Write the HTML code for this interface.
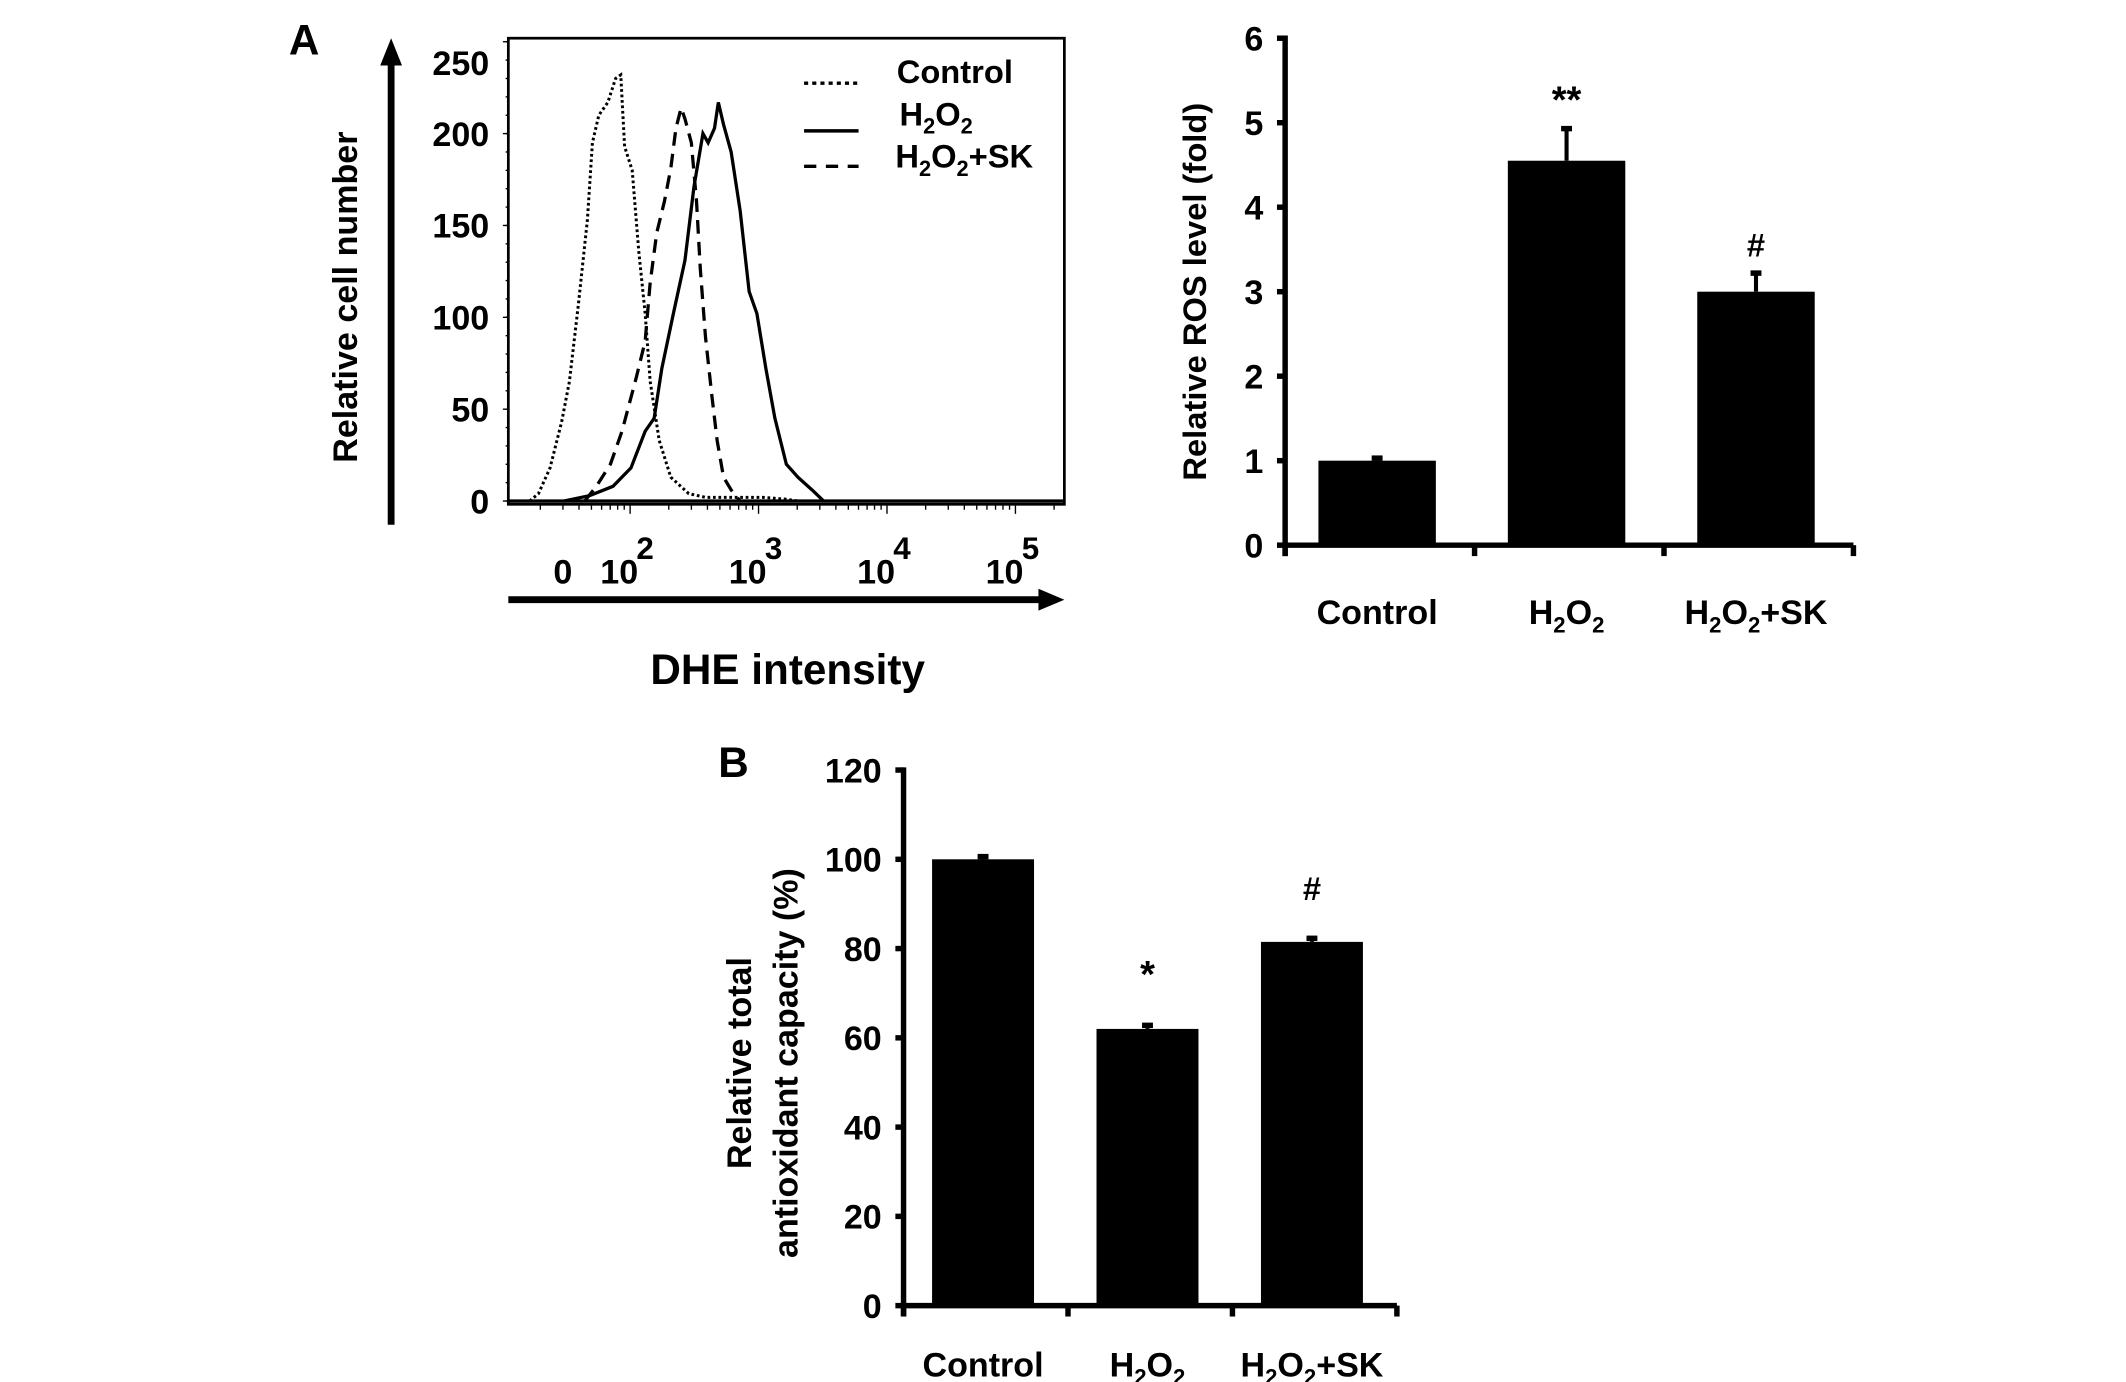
<!DOCTYPE html>
<html><head><meta charset="utf-8"><style>
html,body{margin:0;padding:0;background:#fff}
svg{display:block}
text{font-family:"Liberation Sans",Arial,sans-serif;font-weight:bold;fill:#000}
</style></head><body>
<svg id="fig" width="2126" height="1382" viewBox="0 0 1560 1014" xmlns="http://www.w3.org/2000/svg">
<g id="histo"></g>
<g id="ros"></g>
<g id="tac"></g>
</svg>
<script>
// ---- histogram data (log10 intensity, counts)
const ctrlLog = [1.27,1.34,1.43,1.52,1.58,1.65,1.72,1.76,1.81,1.88,1.94,1.98,2.01,2.07,2.12,2.17,2.21,2.28,2.37,2.51,2.64,3.09,3.27,3.36];
const ctrlCnt = [0,4,18,43,65,107,153,195,210,217,230,232,193,180,136,102,65,33,13,4,2,2,1,0];
const h2o2Log = [1.54,1.74,1.92,2.06,2.17,2.24,2.30,2.39,2.48,2.55,2.62,2.66,2.71,2.74,2.78,2.84,2.91,2.98,3.04,3.11,3.18,3.27,3.36,3.47,3.56];
const h2o2Cnt = [0,3,8,18,38,45,72,102,131,171,200,195,203,217,205,190,158,114,102,72,45,20,13,6,0];
const skLog = [1.70,1.79,1.90,1.99,2.10,2.17,2.21,2.26,2.32,2.37,2.41,2.45,2.48,2.53,2.57,2.60,2.64,2.69,2.73,2.78,2.84,2.91];
const skCnt = [0,8,20,38,67,87,119,146,163,181,203,214,208,195,163,126,89,57,33,13,6,0];
const histYTicks = [0,50,100,150,200,250];
const histXDecades = [2,3,4,5];
// ---- ROS bar data
const rosCats = ["Control","H2O2","H2O2+SK"];
const rosVals = [1.0,4.55,3.0];
const rosErr = [0.03,0.38,0.22];
const rosSig = ["","**","#"];
const rosTicks = [0,1,2,3,4,5,6];
// ---- antioxidant bar data
const tacCats = ["Control","H2O2","H2O2+SK"];
const tacVals = [100,62,81.5];
const tacErr = [0.6,0.8,0.8];
const tacSig = ["","*","#"];
const tacTicks = [0,20,40,60,80,100,120];

const NS="http://www.w3.org/2000/svg";
function mk(parent,tag,attrs,txt){const e=document.createElementNS(NS,tag);for(const k in attrs)e.setAttribute(k,attrs[k]);if(txt!==undefined)e.textContent=txt;parent.appendChild(e);return e;}

// ===== Histogram =====
const H=document.getElementById('histo');
const bx0=373,bx1=781,by0=28,by1=370;
const hy=v=>367.6-v*(67.4/50);
const hx=l=>bx0+408*(0.45+0.231*(l-3));
const cx0=l=>hx(l)-5;
let t;
t=mk(H,'text',{x:212,y:40,'font-size':31},'A');


t=mk(H,'line',{x1:287,y1:385,x2:287,y2:45,stroke:'#000','stroke-width':5});


mk(H,'polygon',{points:'279,48 295,48 287,28',fill:'#000'});
t=mk(H,'text',{x:0,y:0,'font-size':25,'text-anchor':'middle',transform:'translate(262,218) rotate(-90)'},'Relative cell number');


t=mk(H,'rect',{x:bx0,y:by0,width:bx1-bx0,height:by1-by0,fill:'none',stroke:'#000','stroke-width':2});


histYTicks.forEach(v=>{
  mk(H,'line',{x1:bx0-4,y1:hy(v),x2:bx0,y2:hy(v),stroke:'#000','stroke-width':1});
  const ly=v===250?55:hy(v)+9;
  const e=mk(H,'text',{x:359,y:ly,'font-size':25,'text-anchor':'end'},String(v));
  
  
});
for(let v=0;v<=250;v+=10){mk(H,'line',{x1:bx0-2,y1:hy(v),x2:bx0,y2:hy(v),stroke:'#000','stroke-width':1});}
for(let d=1;d<=5;d++){for(let m=1;m<10;m++){const l=d+Math.log10(m);const x=hx(l);if(x<bx0+2||x>bx1)continue;mk(H,'line',{x1:x,y1:by1,x2:x,y2:by1+(m===1?7:4),stroke:'#000','stroke-width':1});}}
t=mk(H,'text',{x:413,y:428,'font-size':25,'text-anchor':'middle'},'0');


histXDecades.forEach(d=>{
  const x=hx(d);
  const e=mk(H,'text',{x:x-8,y:428,'font-size':25,'text-anchor':'middle'},'10');
  
  
  mk(H,'text',{x:x+11,y:410,'font-size':23,'text-anchor':'middle'},String(d));
});
t=mk(H,'line',{x1:373,y1:440,x2:765,y2:440,stroke:'#000','stroke-width':5});


mk(H,'polygon',{points:'762,432 762,448 781,440',fill:'#000'});
t=mk(H,'text',{x:578,y:502,'font-size':31,'text-anchor':'middle'},'DHE intensity');


mk(H,'line',{x1:bx0,y1:hy(0),x2:bx1,y2:hy(0),stroke:'#000','stroke-width':2.5});
function curve(L,C,dash,name){
  const p=L.map((l,i)=>cx0(l).toFixed(1)+','+hy(C[i]).toFixed(1)).join(' ');
  const e=mk(H,'polyline',{points:p,fill:'none',stroke:'#000','stroke-width':dash==='dot'?2.2:2.4,'stroke-dasharray':dash==='dot'?'2,2':(dash==='dash'?'10,6':'none')});
  
  
}
curve(ctrlLog,ctrlCnt,'dot','control-curve');
curve(h2o2Log,h2o2Cnt,'solid','h2o2-curve');
curve(skLog,skCnt,'dash','h2o2-sk-curve');
function legend(y,dash,name){
  const g=mk(H,'g',{});
  
  
  mk(g,'line',{x1:590,y1:y,x2:630,y2:y,stroke:'#000','stroke-width':2.5,'stroke-dasharray':dash});
  return g;
}
let g=legend(61,'3,3','legend-control');
mk(g,'text',{x:658,y:61,'font-size':24},'Control');
g=legend(96,'none','legend-h2o2');
let tx=mk(g,'text',{x:660,y:92,'font-size':24});tx.innerHTML='H<tspan font-size="16" dy="6">2</tspan><tspan dy="-6">O</tspan><tspan font-size="16" dy="6">2</tspan>';
g=legend(122,'9,7','legend-h2o2-sk');
tx=mk(g,'text',{x:657,y:123,'font-size':24});tx.innerHTML='H<tspan font-size="16" dy="6">2</tspan><tspan dy="-6">O</tspan><tspan font-size="16" dy="6">2</tspan><tspan dy="-6">+SK</tspan>';

function catLabel(p,x,y,c,fs){
  const e=mk(p,'text',{x:x,y:y,'font-size':fs,'text-anchor':'middle'});
  
  
  const s=(fs*0.65);
  if(c==='Control'){e.textContent='Control';}
  else if(c==='H2O2'){e.innerHTML='H<tspan font-size="'+s+'" dy="6">2</tspan><tspan dy="-6">O</tspan><tspan font-size="'+s+'" dy="6">2</tspan>';}
  else {e.innerHTML='H<tspan font-size="'+s+'" dy="6">2</tspan><tspan dy="-6">O</tspan><tspan font-size="'+s+'" dy="6">2</tspan><tspan dy="-6">+SK</tspan>';}
}
function barChart(P,o){
  const ys=v=>o.y0-v*(o.y0-o.yTop)/o.max;
  const ax=mk(P,'line',{x1:o.ax,y1:o.yTop-2,x2:o.ax,y2:o.y0+8,stroke:'#000','stroke-width':4});
  
  
  const xa=mk(P,'line',{x1:o.ax,y1:o.y0,x2:o.xEnd,y2:o.y0,stroke:'#000','stroke-width':4});
  
  
  o.ticks.forEach(v=>{
    mk(P,'line',{x1:o.ax-6,y1:ys(v),x2:o.ax,y2:ys(v),stroke:'#000','stroke-width':4});
    const e=mk(P,'text',{x:o.ax-16,y:ys(v)+9,'font-size':25,'text-anchor':'end'},String(v));
    
    
  });
  const n=o.cats.length, step=(o.xEnd-o.ax)/n;
  for(let i=0;i<=n;i++){const x=o.ax+i*step;mk(P,'line',{x1:x,y1:o.y0,x2:x,y2:o.y0+8,stroke:'#000','stroke-width':4});}
  o.vals.forEach((v,i)=>{
    const cx=o.ax+step*(i+0.5)-2;
    const bw=step*0.62;
    const r=mk(P,'rect',{x:cx-bw/2,y:ys(v),width:bw,height:o.y0-ys(v),fill:'#000'});
    
    
    const et=ys(v+o.err[i]);
    const eb=mk(P,'line',{x1:cx,y1:ys(v),x2:cx,y2:et,stroke:'#000','stroke-width':3});
    
    
    mk(P,'rect',{x:cx-4,y:et-2,width:8,height:4,fill:'#000'});
    if(o.sig[i]){const s=mk(P,'text',{x:cx,y:et-o.sigOff,'font-size':o.sig[i]==='#'?24:28,'text-anchor':'middle'},o.sig[i]);
      
      }
    catLabel(P,cx,o.labelY,o.cats[i],25);
  });
}
barChart(document.getElementById('ros'),{ax:943,xEnd:1360,y0:400,yTop:28,max:6,ticks:rosTicks,cats:rosCats,vals:rosVals,err:rosErr,sig:rosSig,labelY:458,sigOff:12});
t=mk(document.getElementById('ros'),'text',{x:0,y:0,'font-size':24,'text-anchor':'middle',transform:'translate(885,214) rotate(-90)'},'Relative ROS level (fold)');



const B=document.getElementById('tac');
t=mk(B,'text',{x:527,y:570,'font-size':31},'B');


barChart(B,{ax:663,xEnd:1025,y0:958,yTop:565,max:120,ticks:tacTicks,cats:tacCats,vals:tacVals,err:tacErr,sig:tacSig,labelY:1010,sigOff:28});
t=mk(B,'text',{x:0,y:0,'font-size':25,'text-anchor':'middle',transform:'translate(551,780) rotate(-90)'},'Relative total');


t=mk(B,'text',{x:0,y:0,'font-size':25,'text-anchor':'middle',transform:'translate(585,780) rotate(-90)'},'antioxidant capacity (%)');


</script>
</body></html>
